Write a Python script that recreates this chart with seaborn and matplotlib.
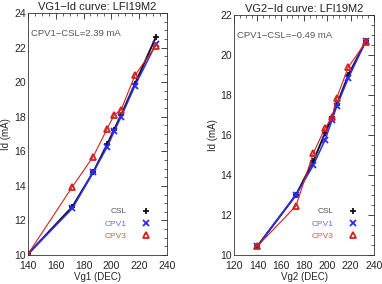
import matplotlib
matplotlib.use('Agg')
import matplotlib.pyplot as plt
from matplotlib.lines import Line2D
from matplotlib.ticker import MultipleLocator
import seaborn as sns

# data
vg1 = [140, 172, 187, 197, 202, 207, 217, 232]
vg1_csl = [10.05, 12.8, 14.8, 16.4, 17.25, 18.1, 19.9, 22.6]
vg1_cpv1 = [10.05, 12.7, 14.8, 16.25, 17.15, 18.0, 19.8, 22.2]
vg1_cpv3 = [10.05, 13.95, 15.7, 17.3, 18.1, 18.4, 20.4, 22.1]

vg2 = [140, 173, 188, 198, 204, 208, 218, 233]
vg2_csl = [10.45, 13.0, 14.7, 16.1, 16.9, 17.5, 19.0, 20.7]
vg2_cpv1 = [10.45, 13.0, 14.5, 15.75, 16.75, 17.45, 18.85, 20.7]
vg2_cpv3 = [10.45, 12.45, 15.1, 16.35, 16.9, 17.85, 19.4, 20.65]

series = ['CSL', 'CPV1', 'CPV3']
colors = {'CSL': '#111111', 'CPV1': '#2a2aff', 'CPV3': '#d42020'}
text_colors = {'CSL': '#555555', 'CPV1': '#6a6aff', 'CPV3': '#e05050'}
markers = {'CSL': '+', 'CPV1': 'x', 'CPV3': '^'}
widths = {'CSL': 1.4, 'CPV1': 1.1, 'CPV3': 0.8}

panels = [
    dict(x=vg1, ys=[vg1_csl, vg1_cpv1, vg1_cpv3], title='VG1\u2212Id curve: LFI19M2',
         xlabel='Vg1 (DEC)', xlim=(140, 240), ylim=(10, 24), yticks=[10, 12, 14, 16, 18, 20, 22, 24],
         note='CPV1\u2212CSL=2.39 mA'),
    dict(x=vg2, ys=[vg2_csl, vg2_cpv1, vg2_cpv3], title='VG2\u2212Id curve: LFI19M2',
         xlabel='Vg2 (DEC)', xlim=(120, 240), ylim=(10, 22), yticks=[10, 12, 14, 16, 18, 20, 22],
         note='CPV1\u2212CSL=\u22120.49 mA'),
]

sns.set_style('white')
plt.rcParams['font.family'] = ['Liberation Sans', 'DejaVu Sans']

fig = plt.figure(figsize=(3.82, 2.84), dpi=100)
rects = [[0.073, 0.102, 0.364, 0.852], [0.613, 0.102, 0.366, 0.845]]

for rect, p in zip(rects, panels):
    ax = fig.add_axes(rect)
    for name, y in zip(series, p['ys']):
        c = colors[name]
        sns.lineplot(x=p['x'], y=y, ax=ax, color=c, lw=widths[name], marker=markers[name],
                     ms=5, mec=c, mfc='none', mew=1.3, sort=False)
    ax.set_xlim(*p['xlim'])
    ax.set_ylim(*p['ylim'])
    ax.set_xticks(range(p['xlim'][0], 241, 20))
    ax.set_yticks(p['yticks'])
    ax.xaxis.set_minor_locator(MultipleLocator(5))
    ax.yaxis.set_minor_locator(MultipleLocator(0.5))
    ax.tick_params(which='both', direction='in', top=True, right=True, labelsize=7.5)
    ax.tick_params(axis='x', pad=4)
    ax.tick_params(axis='y', pad=1.5)
    ax.tick_params(which='major', length=4, width=0.6)
    ax.tick_params(which='minor', length=2, width=0.5)
    for s in ax.spines.values():
        s.set_linewidth(0.6)
        s.set_color('#333333')
    ax.set_title(p['title'], fontsize=8, pad=2, color='#222222')
    ax.set_xlabel(p['xlabel'], fontsize=7, labelpad=1)
    ax.set_ylabel('Id (mA)', fontsize=7, labelpad=2)
    ax.text(0.02, 0.905, p['note'], transform=ax.transAxes, fontsize=6.8, color='#555555')
    handles = [Line2D([], [], ls='none', marker=markers[n], color=colors[n], mec=colors[n],
                      mfc='none', ms=5, mew=1.3) for n in series]
    ax.legend(handles, series, loc='lower right', bbox_to_anchor=(0.93, 0.03), frameon=False,
              markerfirst=False, fontsize=6, labelcolor=[text_colors[n] for n in series],
              handlelength=0.8, handletextpad=2.0, labelspacing=0.55)

fig.savefig('out.png', dpi=100)
